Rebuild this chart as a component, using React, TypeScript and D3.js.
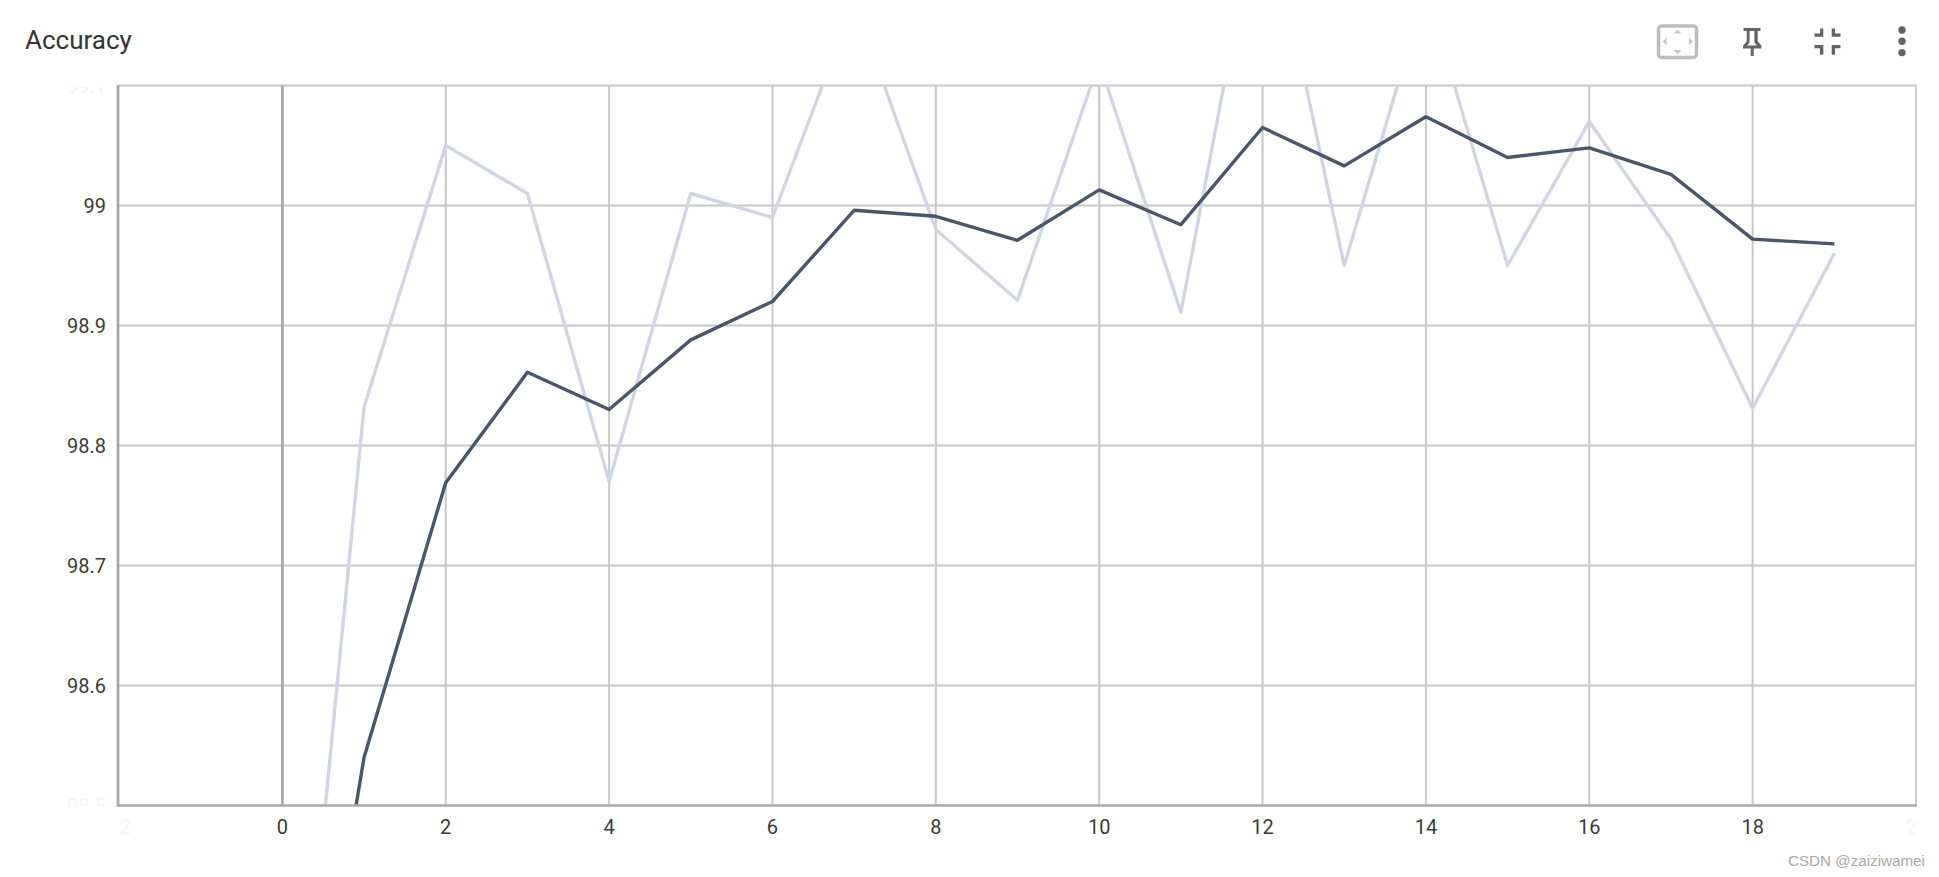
import React from "react";
import * as d3 from "d3";

const steps = [0, 1, 2, 3, 4, 5, 6, 7, 8, 9, 10, 11, 12, 13, 14, 15, 16, 17, 18, 19];
const rawAccuracy = [98.13, 98.832, 99.05, 99.01, 98.77, 99.01, 98.99, 99.17, 98.98, 98.921, 99.12, 98.911, 99.27, 98.95, 99.18, 98.95, 99.07, 98.972, 98.831, 98.96];
const smoothedAccuracy = [98.13, 98.54, 98.769, 98.861, 98.83, 98.888, 98.92, 98.996, 98.991, 98.971, 99.013, 98.984, 99.065, 99.033, 99.074, 99.04, 99.048, 99.026, 98.972, 98.968];
const xTicks = [0, 2, 4, 6, 8, 10, 12, 14, 16, 18];
const xGhostTicks = [-2, 20];
const yTicks = [99, 98.9, 98.8, 98.7, 98.6];
const yGhostTicks = [99.1, 98.5];
const title = "Accuracy";
const watermark = "CSDN @zaiziwamei";

const W = 1939, H = 877;
const L = 119, R = 1916, T = 85.5, B = 805.5;
const FONT = "Roboto, sans-serif";
const GRID = "#c8c8c8", AXIS = "#a8a8a8", LIGHT = "#cfd6e2", DARK = "#4a5569", TXT = "#3a3a3a", ICON = "#636363";

export default function App() {
  const x = d3.scaleLinear().domain([-2, 20]).range([L, R]);
  const y = d3.scaleLinear().domain([98.5, 99.1]).range([B, T]);
  const line = d3.line<number>().x((_, i) => x(steps[i])).y((d) => y(d));

  return (
    <svg width={W} height={H} viewBox={`0 0 ${W} ${H}`} style={{ position: "absolute", left: 0, top: 0, display: "block", background: "#fff" }}>
      <defs>
        <clipPath id="plot"><rect x={L} y={T} width={R - L} height={B - T} /></clipPath>
        <clipPath id="ghostY"><rect x={0} y={87} width={L - 6} height={B - 87 + 1} /></clipPath>
      </defs>

      <text x={25} y={49} fontFamily={FONT} fontSize={26} fill="#333333">{title}</text>

      {/* toolbar icons */}
      <g>
        <rect x={1658.5} y={26} width={38} height={31.5} rx={3} fill="none" stroke="#bdbdbd" strokeWidth={3.4} />
        <g fill="#c4c4c4">
          <path d="M1677.5 29.5l3.8 4h-7.6z" />
          <path d="M1677.5 54l3.8-4h-7.6z" />
          <path d="M1662.5 41.5l4-3.8v7.6z" />
          <path d="M1693 41.5l-4-3.8v7.6z" />
        </g>
        <path d="M1743.5 28h17v3h-2.8v10.5l3.6 4v3h-7.6v7.5h-3v-7.5h-7.6v-3l3.6-4V31h-3.2zM1749.6 31v11.5l-2.6 3h10l-2.6-3V31z" fillRule="evenodd" fill={ICON} />
        <g fill={ICON}>
          <path d="M1814.5 33.4h5.5v-4.9h3.3v8.2h-8.8z" />
          <path d="M1840.5 33.4h-5.5v-4.9h-3.3v8.2h8.8z" />
          <path d="M1814.5 48.3h5.5v6.4h3.3V45h-8.8z" />
          <path d="M1840.5 48.3h-5.5v6.4h-3.3V45h8.8z" />
        </g>
        <circle cx={1902} cy={30} r={3.7} fill={ICON} />
        <circle cx={1902} cy={41.3} r={3.7} fill={ICON} />
        <circle cx={1902} cy={52.6} r={3.7} fill={ICON} />
      </g>

      {/* grid */}
      {yTicks.map((t) => <line key={t} x1={L} x2={R} y1={y(t)} y2={y(t)} stroke={GRID} strokeWidth={2} />)}
      {xTicks.filter((t) => t !== 0).map((t) => <line key={t} x1={x(t)} x2={x(t)} y1={T} y2={B} stroke={GRID} strokeWidth={2} />)}
      <line x1={L} x2={R} y1={T} y2={T} stroke={GRID} strokeWidth={1.8} />
      <line x1={R} x2={R} y1={T} y2={B} stroke={GRID} strokeWidth={1.8} />

      {/* series */}
      <g clipPath="url(#plot)">
        <path d={line(rawAccuracy) ?? ""} fill="none" stroke={LIGHT} strokeWidth={3.4} strokeLinejoin="round" />
        <path d={line(smoothedAccuracy) ?? ""} fill="none" stroke={DARK} strokeWidth={3.4} strokeLinejoin="round" />
      </g>

      {/* axes */}
      <line x1={x(0)} x2={x(0)} y1={T} y2={B} stroke={AXIS} strokeWidth={2.8} />
      <line x1={L - 1} x2={L - 1} y1={T - 0.5} y2={B + 1} stroke={AXIS} strokeWidth={2.8} />
      <line x1={L - 2} x2={R + 1} y1={B} y2={B} stroke={AXIS} strokeWidth={2.6} />

      {/* tick labels */}
      {yTicks.map((t) => (
        <text key={t} x={L - 13} y={y(t) + 7} textAnchor="end" fontFamily={FONT} fontSize={20} fill={TXT}>{t}</text>
      ))}
      {xTicks.map((t) => (
        <text key={t} x={x(t)} y={833.5} textAnchor="middle" fontFamily={FONT} fontSize={20} fill={TXT}>{t}</text>
      ))}
      <g clipPath="url(#ghostY)">
        {yGhostTicks.map((t) => (
          <text key={t} x={L - 13} y={y(t) + 7} textAnchor="end" fontFamily={FONT} fontSize={20} fill="#f5f5f5">{t}</text>
        ))}
      </g>
      {xGhostTicks.map((t) => (
        <text key={t} x={t < 0 ? x(t) + 12 : x(t) - 10} y={833.5} textAnchor={t < 0 ? "end" : "start"} fontFamily={FONT} fontSize={20} fill="#f6f6f6">{Math.abs(t).toString().slice(0, 1)}</text>
      ))}

      <text x={1788} y={866} fontFamily="Liberation Sans, Arial, sans-serif" fontSize={15.2} fill="#a8a8a8">{watermark}</text>
    </svg>
  );
}
